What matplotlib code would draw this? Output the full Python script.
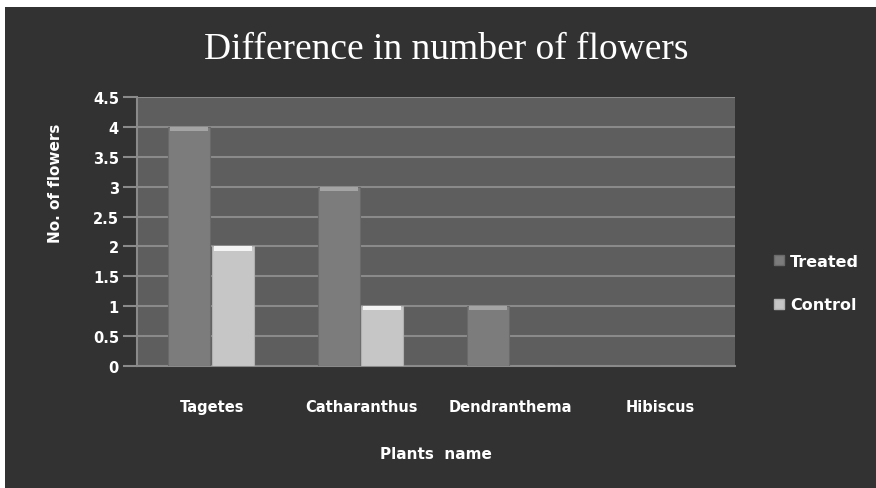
import matplotlib.pyplot as plt
import numpy as np
from matplotlib.patches import Rectangle, Patch

plants = ["Tagetes", "Catharanthus", "Dendranthema", "Hibiscus"]
treated = [4, 3, 1, 0]
control = [2, 1, 0, 0]
yticks = [0, 0.5, 1, 1.5, 2, 2.5, 3, 3.5, 4, 4.5]

fig = plt.figure(figsize=(8.76, 4.89), dpi=100, facecolor="white")

# dark chart background with thin white margin at top/left
fig.patches.append(Rectangle((5 / 876, 0), 1, 1 - 8 / 489, transform=fig.transFigure,
                             facecolor="#323232", edgecolor="none", zorder=-10))

ax = fig.add_axes([137 / 876, 1 - 367 / 489, 598 / 876, 269 / 489])
ax.set_facecolor("#5e5e5e")

x = np.arange(len(plants))
w = 0.28
ax.bar(x - w / 2 - 0.01, treated, w, color="#7c7c7c", edgecolor="#6a6a6a", linewidth=0.8, zorder=3)
ax.bar(x + w / 2 + 0.0, control, w, color="#c6c6c6", edgecolor="#b0b0b0", linewidth=0.8, zorder=3)
# light caps on bar tops
for xi, t, c in zip(x, treated, control):
    if t > 0:
        ax.bar(xi - w / 2 - 0.01, 0.07, w * 0.9, bottom=t - 0.07, color="#a4a4a4", linewidth=0, zorder=4)
    if c > 0:
        ax.bar(xi + w / 2 + 0.0, 0.07, w * 0.9, bottom=c - 0.07, color="#f4f4f4", linewidth=0, zorder=4)

ax.set_xlim(-0.5, 3.5)
ax.set_ylim(0, 4.5)
ax.set_yticks(yticks)
ax.set_yticklabels(["0", "0.5", "1", "1.5", "2", "2.5", "3", "3.5", "4", "4.5"])
ax.yaxis.grid(True, color="#8a8a8a", linewidth=1.5, zorder=1)
ax.set_axisbelow(True)
ax.tick_params(axis="y", colors="#8a8a8a", length=10, width=1.5, pad=3,
               labelcolor="white", labelsize=10.5)
ax.tick_params(axis="x", length=0, labelcolor="white", labelsize=10.5, pad=24)
ax.set_xticks(x)
ax.set_xticklabels(plants)
for lab in ax.get_yticklabels() + ax.get_xticklabels():
    lab.set_fontweight("bold")

for s in ["top", "right"]:
    ax.spines[s].set_visible(False)
ax.spines["left"].set_color("#8a8a8a")
ax.spines["left"].set_linewidth(1.5)
ax.spines["bottom"].set_color("#8a8a8a")
ax.spines["bottom"].set_linewidth(1.5)

ax.set_xlabel("Plants  name", color="white", fontsize=11, fontweight="bold", labelpad=23)
ax.set_ylabel("No. of flowers", color="white", fontsize=11, fontweight="bold")
ax.yaxis.set_label_coords((63 - 137) / 598, (367 - 183) / 269)

fig.text(446 / 876, 1 - 50 / 489, "Difference in number of flowers", ha="center", va="center",
         color="white", fontsize=27, family="Liberation Serif")

handles = [Patch(facecolor="#7c7c7c", edgecolor="#6a6a6a"),
           Patch(facecolor="#c6c6c6", edgecolor="#b0b0b0")]
leg = fig.legend(handles, ["Treated", "Control"], loc="center left",
                 bbox_to_anchor=(760 / 876, 1 - 284 / 489), frameon=False,
                 handlelength=0.6, handleheight=0.6, handletextpad=0.4, labelspacing=1.8,
                 prop={"weight": "bold", "size": 11.5})
for t in leg.get_texts():
    t.set_color("white")

plt.savefig("out.png", dpi=100, facecolor=fig.get_facecolor())
